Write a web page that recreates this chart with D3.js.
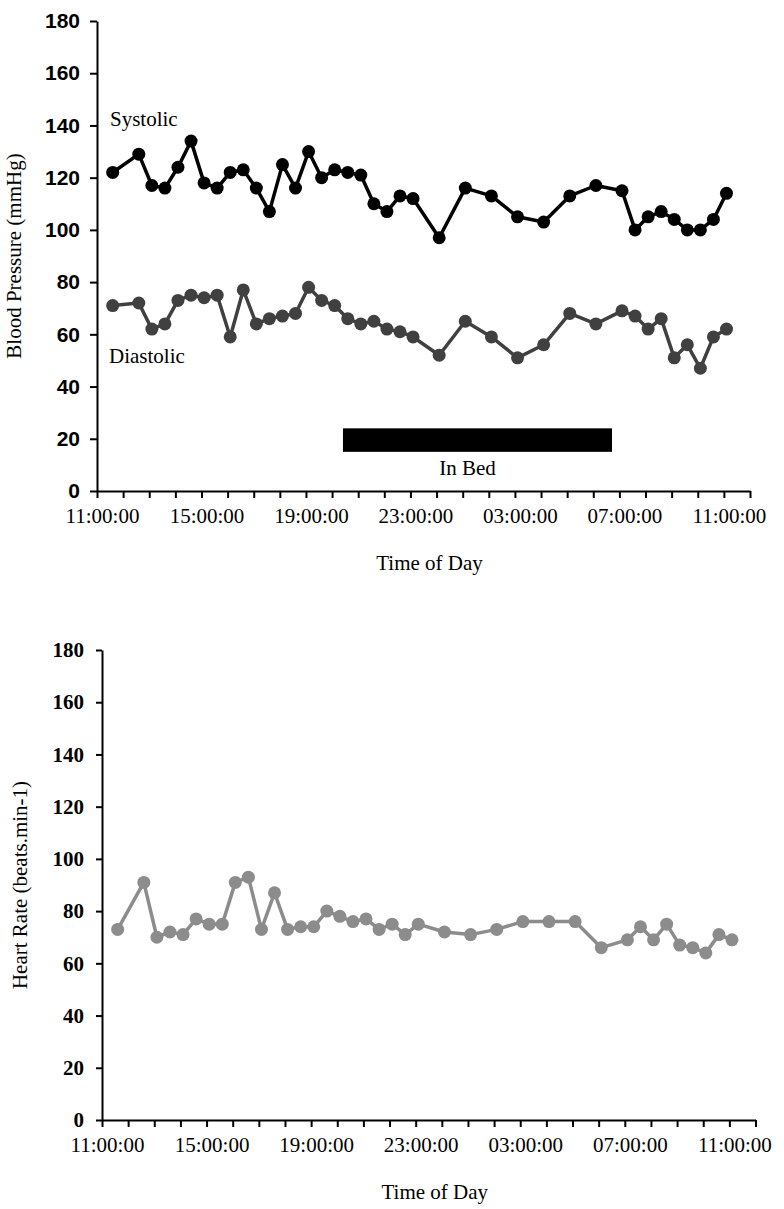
<!DOCTYPE html>
<html>
<head>
<meta charset="utf-8">
<script src="https://cdn.jsdelivr.net/npm/d3@7"></script>
<style>
  html, body { margin: 0; padding: 0; background: #fff; }
  svg { display: block; }
</style>
</head>
<body>
<svg id="chart" width="784" height="1209"></svg>
<script>
// ---------- data ----------
const times = ["11:36","12:36","13:06","13:36","14:06","14:36","15:06","15:36","16:06","16:36",
  "17:06","17:36","18:06","18:36","19:06","19:36","20:06","20:36","21:06","21:36",
  "22:06","22:36","23:06","00:06","01:06","02:06","03:06","04:06","05:06","06:06",
  "07:06","07:36","08:06","08:36","09:06","09:36","10:06","10:36","11:06"];
const systolic = [122,129,117,116,124,134,118,116,122,123,116,107,125,116,130,120,123,122,121,110,
  107,113,112,97,116,113,105,103,113,117,115,100,105,107,104,100,100,104,114];
const diastolic = [71,72,62,64,73,75,74,75,59,77,64,66,67,68,78,73,71,66,64,65,
  62,61,59,52,65,59,51,56,68,64,69,67,62,66,51,56,47,59,62];
const heartRate = [73,91,70,72,71,77,75,75,91,93,73,87,73,74,74,80,78,76,77,73,
  75,71,75,72,71,73,76,76,76,66,69,74,69,75,67,66,64,71,69];
const inBed = {start: "20:25", end: "06:43", low: 15, high: 24, label: "In Bed"};
const yTicks = [0,20,40,60,80,100,120,140,160,180];
const domainStart = "11:00", domainEnd = "12:00";

// ---------- time parsing (sequential, rolling over midnight) ----------
function toDate(str, dayOffset) {
  const [h, m] = str.split(":").map(Number);
  return new Date(2000, 0, 1 + dayOffset, h, m);
}
const dates = [];
{
  let day = 0, prev = -1;
  times.forEach(t => {
    const [h, m] = t.split(":").map(Number);
    const mins = h * 60 + m;
    if (mins < prev) day += 1;
    prev = mins;
    dates.push(toDate(t, day));
  });
}
const bedStart = toDate(inBed.start, 0);
const bedEnd = toDate(inBed.end, 1);
const dom = [toDate(domainStart, 0), toDate(domainEnd, 1)];

const svg = d3.select("#chart");
const fmt = d3.timeFormat("%H:%M:%S");
const serif = "'Liberation Serif', 'Times New Roman', serif";

function drawPanel(cfg) {
  const g = svg.append("g");
  const x = d3.scaleTime().domain(dom).range([cfg.left, cfg.right]);
  const y = d3.scaleLinear().domain([0, 180]).range([cfg.bottom, cfg.top]);

  const ya = g.append("g").attr("transform", `translate(${cfg.left},0)`)
    .call(d3.axisLeft(y).tickValues(yTicks).tickSize(cfg.yTickSize).tickPadding(cfg.yPad).tickSizeOuter(0));
  ya.select(".domain").attr("stroke", "#000").attr("stroke-width", 2);
  ya.selectAll(".tick line").attr("stroke", "#000").attr("stroke-width", 2);
  ya.selectAll(".tick text").attr("fill", "#000")
    .style("font-family", cfg.yFont).style("font-size", cfg.yFontSize + "px")
    .style("font-weight", cfg.yWeight);

  const xa = g.append("g").attr("transform", `translate(0,${cfg.bottom})`)
    .call(d3.axisBottom(x).ticks(d3.timeHour.every(1)).tickSize(7).tickPadding(10).tickSizeOuter(0)
      .tickFormat(d => (d.getHours() % 4 === 3 && d < dom[1]) ? fmt(d) : ""));
  xa.select(".domain").attr("stroke", "#000").attr("stroke-width", 2);
  xa.selectAll(".tick line").attr("stroke", "#000").attr("stroke-width", 2);
  xa.selectAll(".tick text").attr("fill", "#000").attr("dx", 5)
    .style("font-family", serif).style("font-size", "21px");

  g.append("text").attr("x", (cfg.left + cfg.right) / 2 + 6).attr("y", cfg.bottom + 79)
    .attr("text-anchor", "middle")
    .style("font-family", serif).style("font-size", "21px")
    .text("Time of Day");
  g.append("text")
    .attr("transform", `translate(${cfg.titleX},${(cfg.top + cfg.bottom) / 2}) rotate(-90)`)
    .attr("text-anchor", "middle")
    .style("font-family", serif).style("font-size", "21px")
    .text(cfg.yTitle);
  return {g, x, y};
}

function drawSeries(p, values, color) {
  const pts = values.map((v, i) => ({d: dates[i], v}));
  p.g.append("path").datum(pts)
    .attr("fill", "none").attr("stroke", color).attr("stroke-width", 3.5)
    .attr("stroke-linejoin", "round")
    .attr("d", d3.line().x(d => p.x(d.d)).y(d => p.y(d.v)));
  p.g.append("g").selectAll("circle").data(pts).join("circle")
    .attr("cx", d => p.x(d.d)).attr("cy", d => p.y(d.v)).attr("r", 6.5).attr("fill", color);
}

// ---------- top panel: blood pressure ----------
const bpPanel = drawPanel({left: 97, right: 750, top: 21, bottom: 491,
  yTickSize: 7, yPad: 10, yFont: "'Liberation Sans', Arial, sans-serif", yFontSize: 21, yWeight: "bold",
  titleX: 21, yTitle: "Blood Pressure (mmHg)"});

bpPanel.g.append("rect")
  .attr("x", bpPanel.x(bedStart)).attr("y", bpPanel.y(inBed.high))
  .attr("width", bpPanel.x(bedEnd) - bpPanel.x(bedStart))
  .attr("height", bpPanel.y(inBed.low) - bpPanel.y(inBed.high))
  .attr("fill", "#000");
bpPanel.g.append("text")
  .attr("x", bpPanel.x(new Date((bedStart.getTime() + bedEnd.getTime()) / 2)) - 10)
  .attr("y", bpPanel.y(inBed.low) + 23).attr("text-anchor", "middle")
  .style("font-family", serif).style("font-size", "21px")
  .text(inBed.label);

drawSeries(bpPanel, diastolic, "#404040");
drawSeries(bpPanel, systolic, "#000000");

bpPanel.g.append("text").attr("x", 110).attr("y", bpPanel.y(140) + 1)
  .style("font-family", serif).style("font-size", "21px")
  .text("Systolic");
bpPanel.g.append("text").attr("x", 109).attr("y", bpPanel.y(50) + 3)
  .style("font-family", serif).style("font-size", "21px")
  .text("Diastolic");

// ---------- bottom panel: heart rate ----------
const hrPanel = drawPanel({left: 102, right: 755.5, top: 650, bottom: 1120,
  yTickSize: 6, yPad: 12, yFont: serif, yFontSize: 21, yWeight: "bold",
  titleX: 27, yTitle: "Heart Rate (beats.min-1)"});
drawSeries(hrPanel, heartRate, "#8c8c8c");
</script>
</body>
</html>
